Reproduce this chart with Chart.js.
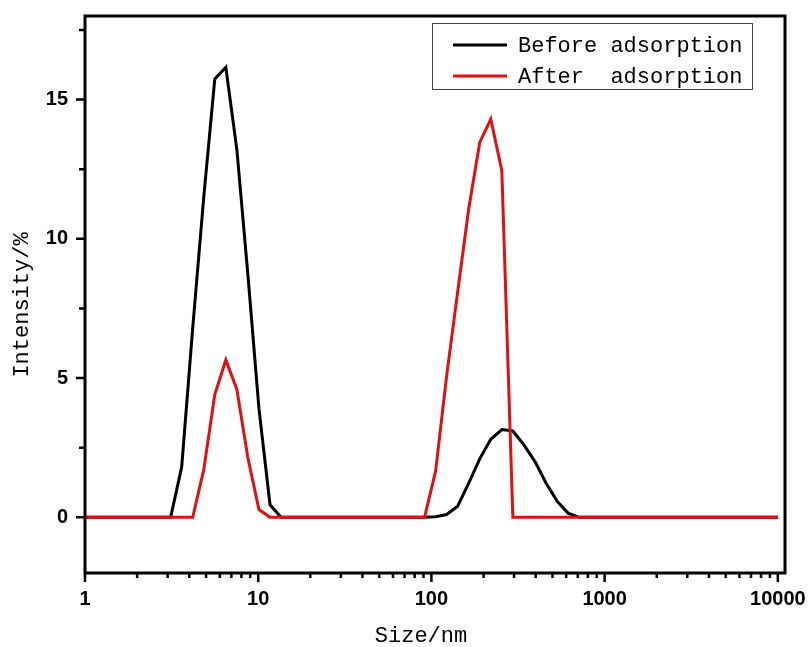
<!DOCTYPE html>
<html>
<head>
<meta charset="utf-8">
<script src="https://cdn.jsdelivr.net/npm/chart.js@4.4.1/dist/chart.umd.min.js"></script>
<style>
    body { margin: 0; background: #fff; }
</style>
</head>
<body>
<canvas id="sizeChart" width="808" height="647"></canvas>
<script>
// particle size (nm) and intensity (%)
const sizes = [1, 3.122, 3.615, 4.187, 4.849, 5.615, 6.503, 7.531, 8.721, 10.10, 11.70, 13.54,
    91.28, 105.7, 122.4, 141.8, 164.2, 190.1, 220.2, 255.0, 295.3, 342.0, 396.1, 458.7, 531.2, 615.1, 712.4, 10000];
const beforeIntensity = [0, 0, 1.8, 6.8, 11.5, 15.74, 16.16, 13.2, 8.7, 3.9, 0.45, 0,
    0, 0.02, 0.1, 0.4, 1.23, 2.1, 2.8, 3.15, 3.1, 2.6, 2.0, 1.23, 0.58, 0.15, 0, 0];
const afterIntensity = [0, 0, 0, 0, 1.71, 4.41, 5.65, 4.59, 2.13, 0.28, 0, 0,
    0, 1.65, 5.07, 8.1, 11.08, 13.46, 14.3, 12.45, 0, 0, 0, 0, 0, 0, 0, 0];

const xTicks = [1, 10, 100, 1000, 10000];
const yTicks = [0, 5, 10, 15];
const yMinorTicks = [2.5, 7.5, 12.5, 17.5];

const titleFont = '22px "Liberation Mono", monospace';

// frame, tick marks, boxed legend and axis titles
const framePlugin = {
    id: 'frame',
    afterDraw(chart) {
        const ctx = chart.ctx;
        const area = chart.chartArea;
        const xScale = chart.scales.x;
        const yScale = chart.scales.y;
        ctx.save();
        ctx.strokeStyle = '#000';
        ctx.lineWidth = 2.5;
        ctx.beginPath();
        xTicks.forEach(v => {
            const px = xScale.getPixelForValue(v);
            ctx.moveTo(px, area.bottom);
            ctx.lineTo(px, area.bottom + 9);
        });
        for (let d = 1; d < 10000; d *= 10) {
            for (let m = 2; m < 10; m++) {
                const px = xScale.getPixelForValue(m * d);
                ctx.moveTo(px, area.bottom);
                ctx.lineTo(px, area.bottom + 5);
            }
        }
        yTicks.forEach(v => {
            const py = yScale.getPixelForValue(v);
            ctx.moveTo(area.left, py);
            ctx.lineTo(area.left - 9, py);
        });
        yMinorTicks.forEach(v => {
            const py = yScale.getPixelForValue(v);
            ctx.moveTo(area.left, py);
            ctx.lineTo(area.left - 6, py);
        });
        ctx.stroke();

        ctx.lineWidth = 3;
        ctx.strokeRect(area.left, area.top, area.right - area.left, area.bottom - area.top);

        // legend
        const boxLeft = area.right - 353;
        const boxTop = area.top + 7;
        ctx.lineWidth = 1;
        ctx.strokeStyle = '#444';
        ctx.strokeRect(boxLeft + 0.5, boxTop + 0.5, 320, 66);
        ctx.font = titleFont;
        ctx.textBaseline = 'middle';
        ctx.textAlign = 'left';
        chart.data.datasets.forEach((ds, i) => {
            const yy = boxTop + 22 + i * 31;
            ctx.strokeStyle = ds.borderColor;
            ctx.lineWidth = 3;
            ctx.beginPath();
            ctx.moveTo(boxLeft + 21, yy);
            ctx.lineTo(boxLeft + 75, yy);
            ctx.stroke();
            ctx.fillStyle = '#000';
            ctx.fillText(ds.label, boxLeft + 86, yy + 1);
        });

        // axis titles
        ctx.fillStyle = '#000';
        ctx.textAlign = 'center';
        ctx.fillText('Size/nm', 421, 636);
        ctx.translate(22, 305);
        ctx.rotate(-Math.PI / 2);
        ctx.fillText('Intensity/%', 0, 0);
        ctx.restore();
    }
};

// keep tick labels from pushing the plot area inward
function noLabelPadding(scale) {
    scale.paddingTop = 0;
    scale.paddingBottom = 0;
    scale.paddingLeft = 0;
    scale.paddingRight = 0;
}

const ctxSize = document.getElementById('sizeChart').getContext('2d');

const sizeChart = new Chart(ctxSize, {
    type: 'line',
    data: {
        datasets: [{
            label: 'Before adsorption',
            data: sizes.map((s, i) => ({ x: s, y: beforeIntensity[i] })),
            borderColor: '#000000',
            borderWidth: 3,
            pointRadius: 0,
            tension: 0,
            fill: false,
            order: 1
        }, {
            label: 'After  adsorption',
            data: sizes.map((s, i) => ({ x: s, y: afterIntensity[i] })),
            borderColor: '#e01010',
            borderWidth: 3,
            pointRadius: 0,
            tension: 0,
            fill: false,
            order: 0
        }]
    },
    options: {
        responsive: false,
        animation: false,
        layout: {
            padding: { top: 16, right: 23, left: 0, bottom: 0 }
        },
        plugins: {
            legend: { display: false },
            tooltip: { enabled: false }
        },
        scales: {
            x: {
                type: 'logarithmic',
                min: 1,
                max: 11000,
                afterBuildTicks: scale => {
                    scale.ticks = xTicks.map(v => ({ value: v }));
                },
                afterFit: scale => {
                    scale.height = 74;
                    noLabelPadding(scale);
                },
                grid: { display: false, drawTicks: false },
                border: { display: false },
                ticks: {
                    autoSkip: false,
                    maxRotation: 0,
                    padding: 14,
                    color: '#000',
                    font: { family: '"Liberation Sans", Arial', size: 20, weight: 'bold' },
                    callback: value => String(value)
                }
            },
            y: {
                min: -2,
                max: 18,
                afterBuildTicks: scale => {
                    scale.ticks = yTicks.map(v => ({ value: v }));
                },
                afterFit: scale => {
                    scale.width = 85;
                    noLabelPadding(scale);
                },
                grid: { display: false, drawTicks: false },
                border: { display: false },
                ticks: {
                    padding: 17,
                    color: '#000',
                    font: { family: '"Liberation Sans", Arial', size: 20, weight: 'bold' }
                }
            }
        }
    },
    plugins: [framePlugin]
});
</script>
</body>
</html>
